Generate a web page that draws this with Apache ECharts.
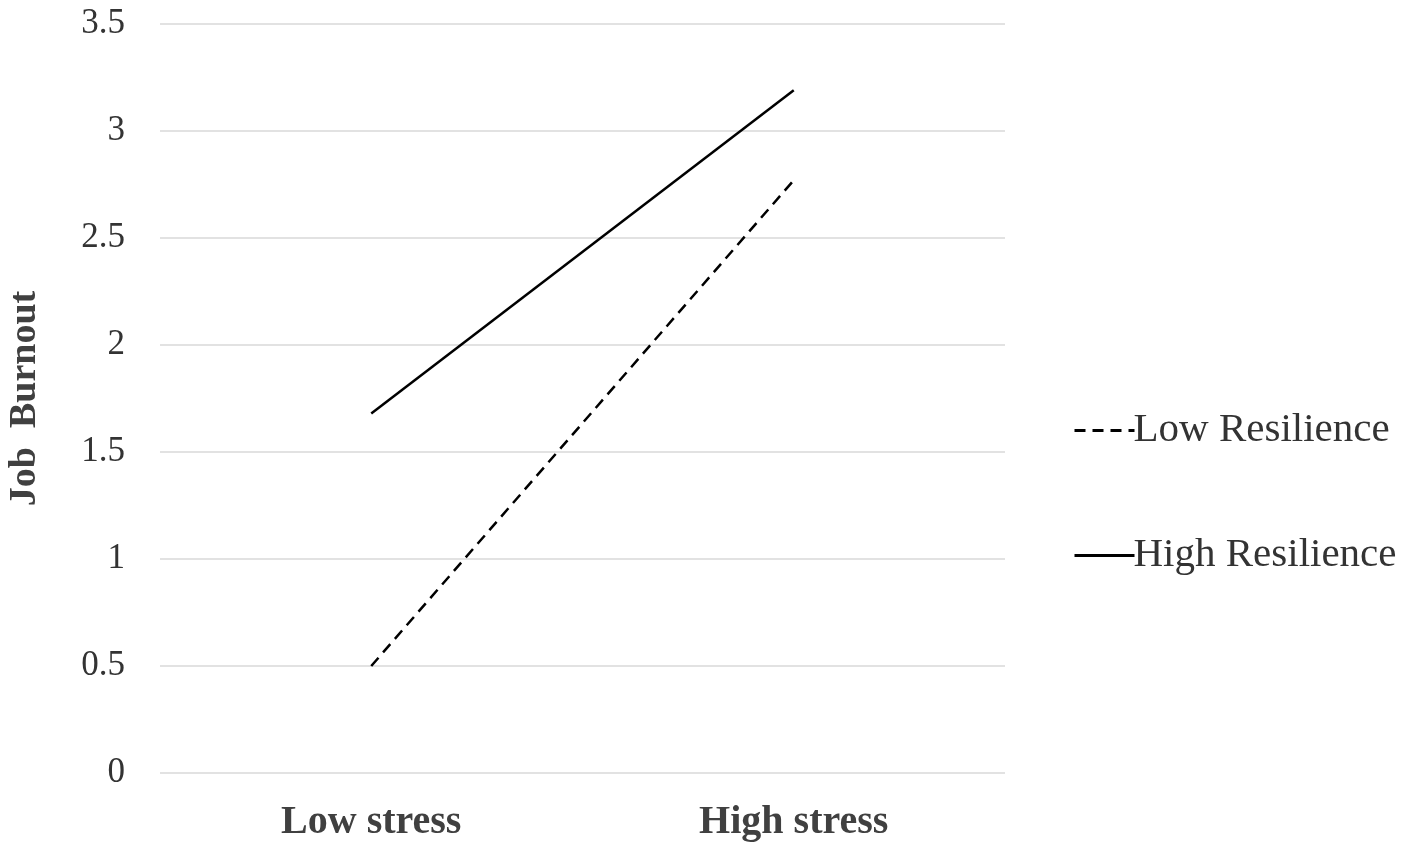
<!DOCTYPE html>
<html>
<head>
<meta charset="utf-8">
<script src="https://cdn.jsdelivr.net/npm/echarts@6/dist/echarts.min.js"></script>
<style>
  html, body { margin: 0; padding: 0; background: #fff; }
  #chart { width: 1418px; height: 850px; }
</style>
</head>
<body>
<div id="chart"></div>
<script>
// data
var categories = ['Low stress', 'High stress'];
var lowResilience = [0.5, 2.77];
var highResilience = [1.68, 3.19];
var seriesNames = ['Low Resilience', 'High Resilience'];

var chart = echarts.init(document.getElementById('chart'));
var font = '"Liberation Serif", "Times New Roman", serif';

var option = {
  backgroundColor: '#fff',
  animation: false,
  textStyle: { fontFamily: font },
  grid: { left: 160, right: 413, top: 24, bottom: 77, outerBoundsMode: 'none', containLabel: false },
  legend: {
    orient: 'vertical',
    left: 1068,
    top: 405,
    itemWidth: 60,
    itemHeight: 14,
    itemGap: 84,
    itemStyle: { opacity: 0 },
    lineStyle: { width: 3 },
    textStyle: { fontFamily: font, fontSize: 41, color: '#333', padding: [0, 0, 0, -6] },
    data: seriesNames
  },
  xAxis: {
    type: 'category',
    data: categories,
    boundaryGap: true,
    axisLine: { show: false },
    axisTick: { show: false },
    axisLabel: { fontFamily: font, fontSize: 40, fontWeight: 'bold', color: '#404040', margin: 30 }
  },
  yAxis: {
    type: 'value',
    min: 0,
    max: 3.5,
    interval: 0.5,
    name: 'Job  Burnout',
    nameLocation: 'middle',
    nameRotate: 90,
    nameGap: 116,
    nameTextStyle: { fontFamily: font, fontSize: 38, fontWeight: 'bold', color: '#404040' },
    axisLine: { show: false },
    axisTick: { show: false },
    axisLabel: { fontFamily: font, fontSize: 35, color: '#333', margin: 35 },
    splitLine: { lineStyle: { color: '#d9d9d9', width: 1.5 } }
  },
  series: [{
    name: seriesNames[0],
    type: 'line',
    data: lowResilience,
    symbol: 'none',
    lineStyle: { color: '#000', width: 2.5, type: [11, 7] },
    itemStyle: { color: '#000' }
  }, {
    name: seriesNames[1],
    type: 'line',
    data: highResilience,
    symbol: 'none',
    lineStyle: { color: '#000', width: 2.5 },
    itemStyle: { color: '#000' }
  }]
};

chart.setOption(option);
</script>
</body>
</html>
